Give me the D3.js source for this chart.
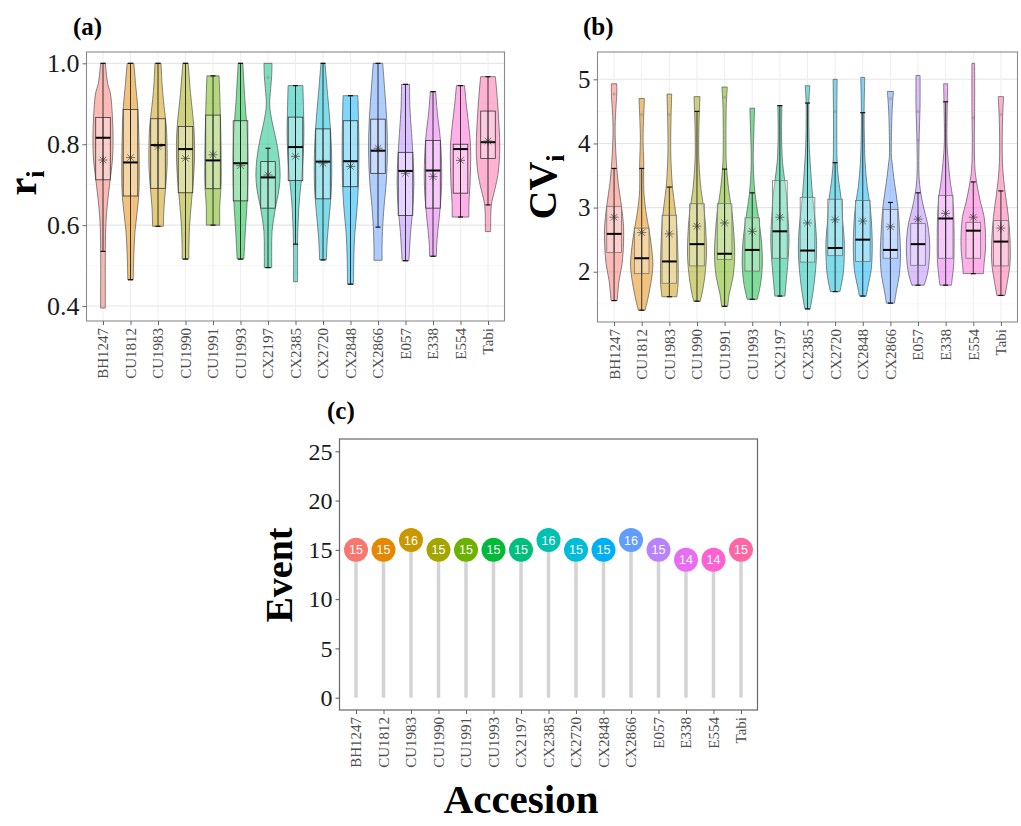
<!DOCTYPE html>
<html><head><meta charset="utf-8">
<script src="https://cdn.jsdelivr.net/npm/d3@7/dist/d3.min.js"></script>
<style>body{margin:0;background:#fff}</style>
</head><body>
<svg id="chart" width="1021" height="826"></svg>
<script>
// ---------- data ----------
const accessions = ["BH1247","CU1812","CU1983","CU1990","CU1991","CU1993","CX2197","CX2385","CX2720","CX2848","CX2866","E057","E338","E554","Tabi"];
const colors = ["#F8766D","#E58700","#C99800","#A3A500","#6BB100","#00BA38","#00BF7D","#00C0AF","#00BCD8","#00B0F6","#619CFF","#B983FF","#E76BF3","#FD61D1","#FF67A4"];

// panel (a): r_i  — violin density profiles as [value, relative density]
const rProfiles = [
  [[1.0,7],[0.95,14],[0.926,22],[0.868,28],[0.81,30],[0.76,28],[0.71,21],[0.66,14],[0.61,9],[0.54,7],[0.395,7]],
  [[1.0,10],[0.95,15],[0.885,22],[0.81,25],[0.745,26],[0.68,25],[0.62,18],[0.58,13],[0.53,10],[0.465,8]],
  [[1.0,9],[0.95,12],[0.91,16],[0.84,25],[0.79,27],[0.745,27],[0.695,23],[0.646,18],[0.597,16]],
  [[1.0,8],[0.926,15],[0.84,25],[0.786,27],[0.73,25],[0.66,18],[0.597,12],[0.54,10],[0.516,10]],
  [[0.969,18],[0.926,20],[0.868,22],[0.786,24],[0.70,24],[0.646,20],[0.60,20]],
  [[1.0,7],[0.91,13],[0.827,20],[0.745,22],[0.663,20],[0.58,14],[0.516,10]],
  [[1.0,12],[0.97,11],[0.938,8],[0.897,5],[0.856,12],[0.807,25],[0.765,33],[0.724,36],[0.69,33],[0.642,22],[0.584,12],[0.535,11],[0.495,11]],
  [[0.945,22],[0.88,24],[0.83,25],[0.774,23],[0.716,18],[0.667,12],[0.61,8],[0.551,6],[0.46,6]],
  [[1.0,6],[0.92,14],[0.84,22],[0.757,26],[0.69,25],[0.634,20],[0.568,13],[0.514,10]],
  [[0.92,22],[0.852,24],[0.786,25],[0.712,24],[0.646,20],[0.58,13],[0.523,10],[0.454,9]],
  [[1.0,14],[0.934,20],[0.86,26],[0.786,28],[0.712,25],[0.646,18],[0.597,14],[0.547,12],[0.513,12]],
  [[0.948,12],[0.893,13],[0.827,18],[0.761,23],[0.704,25],[0.646,22],[0.58,15],[0.539,12],[0.512,10]],
  [[0.93,8],[0.877,13],[0.811,22],[0.728,26],[0.671,24],[0.613,18],[0.564,12],[0.523,10]],
  [[0.945,12],[0.893,18],[0.835,26],[0.794,30],[0.745,30],[0.695,28],[0.654,25],[0.62,25]],
  [[0.967,22],[0.909,28],[0.844,33],[0.786,35],[0.728,30],[0.687,20],[0.65,10],[0.584,8]]
];
const rQ3   = [0.866,0.886,0.863,0.844,0.872,0.858,0.757,0.867,0.838,0.858,0.862,0.780,0.809,0.800,0.882];
const rMed  = [0.816,0.755,0.798,0.788,0.760,0.753,0.718,0.793,0.757,0.758,0.784,0.734,0.735,0.788,0.805];
const rQ1   = [0.712,0.672,0.691,0.680,0.690,0.660,0.642,0.710,0.665,0.695,0.728,0.624,0.642,0.679,0.765];
const rMean = [0.761,0.767,0.794,0.765,0.774,0.747,0.724,0.770,0.753,0.745,0.790,0.728,0.720,0.760,0.808];
const rWhiskLo = [0.535,0.465,0.597,0.516,0.600,0.516,0.495,0.553,0.514,0.454,0.595,0.512,0.523,0.620,0.650];
const rWhiskHi = [1.0,1.0,1.0,1.0,0.969,1.0,0.790,0.945,1.0,0.920,1.0,0.948,0.930,0.945,0.967];
const rOutliers = [[],[],[],[],[],[],[0.965],[],[],[],[],[],[],[],[]];
const rTicks = [0.4,0.6,0.8,1.0];
const rMinor = [0.5,0.7,0.9];

// panel (b): CV_i
const cvProfiles = [
  [[4.93,8],[4.77,8],[4.6,6],[4.26,3],[4.0,4],[3.70,7],[3.39,12],[3.02,22],[2.71,28],[2.45,28],[2.13,24],[1.87,15],[1.55,9]],
  [[4.70,8],[4.45,6],[4.05,4],[3.70,6],[3.28,6],[2.92,13],[2.65,22],[2.34,30],[2.08,33],[1.76,25],[1.55,17],[1.40,10]],
  [[4.77,7],[4.4,5],[4.0,4],[3.70,5],[3.28,10],[2.86,20],[2.50,24],[2.13,26],[1.82,26],[1.61,22]],
  [[4.73,9],[4.5,7],[4.0,5],[3.70,6],[3.28,12],[2.92,22],[2.55,27],[2.24,28],[1.92,23],[1.66,15],[1.54,10]],
  [[4.88,8],[4.6,5],[4.0,4],[3.70,5],[3.28,12],[2.92,22],[2.55,28],[2.24,30],[1.92,25],[1.66,14],[1.46,9]],
  [[4.55,7],[4.2,5],[3.70,3],[3.23,8],[2.86,18],[2.50,27],[2.13,30],[1.82,25],[1.57,15]],
  [[4.59,6],[4.2,5],[3.9,6],[3.70,8],[3.44,14],[3.18,20],[2.86,24],[2.55,27],[2.24,25],[1.92,20],[1.62,15]],
  [[4.90,7],[4.63,4],[4.0,5],[3.70,8],[3.18,15],[2.65,25],[2.34,27],[2.03,24],[1.71,17],[1.42,8]],
  [[5.0,6],[4.5,5],[4.0,5],[3.70,6],[3.44,10],[3.13,18],[2.81,22],[2.50,27],[2.24,27],[1.97,24],[1.69,14]],
  [[5.03,6],[4.5,4],[4.0,5],[3.70,7],[3.33,13],[3.02,22],[2.65,27],[2.34,28],[2.03,25],[1.76,15],[1.62,10]],
  [[4.81,9],[4.5,5],[3.8,3],[3.70,5],[3.39,12],[3.02,22],[2.65,27],[2.29,30],[1.97,27],[1.71,18],[1.51,12]],
  [[5.06,6],[4.6,6],[4.0,3],[3.5,3],[3.23,8],[2.97,18],[2.76,28],[2.50,34],[2.24,34],[1.97,28],[1.79,18]],
  [[4.93,6],[4.65,5],[4.0,4],[3.70,8],[3.39,14],[3.18,20],[2.86,24],[2.50,25],[2.13,24],[1.92,20],[1.79,17]],
  [[5.25,4],[4.5,4],[4.0,3],[3.6,5],[3.39,10],[3.07,22],[2.86,32],[2.60,36],[2.34,36],[2.13,32],[1.97,30]],
  [[4.73,8],[4.4,5],[3.8,4],[3.44,8],[3.18,14],[2.86,22],[2.50,27],[2.13,27],[1.87,20],[1.63,12]]
];
const cvQ3   = [3.02,2.68,2.88,3.06,3.06,2.84,3.42,3.16,3.13,3.11,2.97,2.75,3.19,2.77,2.80];
const cvMed  = [2.59,2.21,2.16,2.43,2.28,2.34,2.63,2.33,2.37,2.50,2.34,2.43,2.83,2.64,2.47];
const cvQ1   = [2.30,1.97,1.82,2.09,2.19,2.01,2.21,2.15,2.25,2.16,2.21,2.10,2.21,2.21,2.09];
const cvMean = [2.85,2.61,2.59,2.71,2.76,2.63,2.85,2.76,2.81,2.79,2.70,2.82,2.91,2.85,2.68];
const cvWhiskLo = [1.55,1.40,1.61,1.54,1.46,1.57,1.62,1.42,1.69,1.62,1.51,1.79,1.79,1.97,1.63];
const cvWhiskHi = [3.61,3.61,3.32,4.50,3.60,3.23,4.59,4.63,3.70,4.48,3.08,3.23,4.65,3.40,3.26];
const cvOutliers = [[4.77],[4.45],[4.45],[],[4.72],[],[],[],[4.5],[],[4.7],[4.5,4.05],[],[4.4],[4.45]];
const cvTicks = [2,3,4,5];
const cvMinor = [1.5,2.5,3.5,4.5];

// panel (c): events
const eventCounts = [15,15,16,15,15,15,15,16,15,15,16,15,14,14,15];
const eventTicks = [0,5,10,15,20,25];

// ---------- drawing ----------
const svg = d3.select("#chart");
const serif = "'Liberation Serif','Times New Roman',serif";

function asterisk(r){
  const k = r*0.72;
  return `M${-r},0L${r},0M0,${-r}L0,${r}M${-k},${-k}L${k},${k}M${-k},${k}L${k},${-k}`;
}

function styleXAxis(g){
  g.select(".domain").remove();
  g.selectAll(".tick line").attr("stroke","#666");
  g.selectAll(".tick text")
    .attr("transform","rotate(-90)")
    .attr("x",-7).attr("y",0).attr("dy","0.33em")
    .style("text-anchor","end")
    .attr("font-family",serif).attr("font-size",15).attr("fill","#4d4d4d");
}

function violinPanel(c){
  const g = svg.append("g");
  const x = d3.scalePoint().domain(accessions).range([c.x0,c.x1]).padding(0.6);
  const y = d3.scaleLinear().domain(c.domain).range([c.y1,c.y0]);
  const step = x.step();
  const w = d3.scaleLinear().domain([0,36]).range([0, step*0.44]);
  const boxHalf = step*0.265;

  // grid
  g.selectAll(".minor").data(c.minor).join("line")
    .attr("x1",c.x0).attr("x2",c.x1).attr("y1",d=>y(d)).attr("y2",d=>y(d))
    .attr("stroke","#f3f3f3").attr("stroke-width",0.7);
  g.selectAll(".major").data(c.ticks).join("line")
    .attr("x1",c.x0).attr("x2",c.x1).attr("y1",d=>y(d)).attr("y2",d=>y(d))
    .attr("stroke","#e6e6e6").attr("stroke-width",1.1);
  g.selectAll(".vmajor").data(accessions).join("line")
    .attr("x1",d=>x(d)).attr("x2",d=>x(d)).attr("y1",c.y0).attr("y2",c.y1)
    .attr("stroke","#eeeeee").attr("stroke-width",1);

  const area = d3.area().curve(d3.curveCatmullRom.alpha(0.5));
  accessions.forEach((a,i)=>{
    const cx = x(a);
    const prof = c.profiles[i];
    area.y(d=>y(d[0])).x0(d=>cx-w(d[1])).x1(d=>cx+w(d[1]));
    g.append("path").attr("d",area(prof))
      .attr("fill",colors[i]).attr("fill-opacity",0.5)
      .attr("stroke","#555").attr("stroke-width",0.7);
    // outliers
    c.outliers[i].forEach(v=>{
      g.append("circle").attr("cx",cx).attr("cy",y(v)).attr("r",1.6)
        .attr("fill","#777").attr("fill-opacity",0.35);
    });
    // whisker line
    g.append("line").attr("x1",cx).attr("x2",cx)
      .attr("y1",y(c.wlo[i])).attr("y2",y(c.whi[i]))
      .attr("stroke","#111").attr("stroke-width",0.8);
    [c.wlo[i],c.whi[i]].forEach(v=>{
      g.append("line").attr("x1",cx-2.5).attr("x2",cx+2.5).attr("y1",y(v)).attr("y2",y(v))
        .attr("stroke","#111").attr("stroke-width",1.2);
    });
    // box
    g.append("rect").attr("x",cx-boxHalf).attr("width",boxHalf*2)
      .attr("y",y(c.q3[i])).attr("height",y(c.q1[i])-y(c.q3[i]))
      .attr("fill","#fff").attr("fill-opacity",0.3)
      .attr("stroke",c.boxStroke).attr("stroke-width",0.8);
    g.append("line").attr("x1",cx).attr("x2",cx)
      .attr("y1",y(c.q1[i])).attr("y2",y(c.q3[i]))
      .attr("stroke","#111").attr("stroke-width",0.8);
    g.append("line").attr("x1",cx-boxHalf).attr("x2",cx+boxHalf)
      .attr("y1",y(c.med[i])).attr("y2",y(c.med[i]))
      .attr("stroke","#000").attr("stroke-width",2);
    // mean
    g.append("path").attr("d",asterisk(4.5))
      .attr("transform",`translate(${cx},${y(c.mean[i])})`)
      .attr("stroke","#333").attr("stroke-opacity",0.8).attr("stroke-width",0.8).attr("fill","none");
  });

  // border
  g.append("rect").attr("x",c.x0).attr("y",c.y0).attr("width",c.x1-c.x0).attr("height",c.y1-c.y0)
    .attr("fill","none").attr("stroke","#8a8a8a").attr("stroke-width",1.1);

  // axes
  const ya = g.append("g").attr("transform",`translate(${c.x0},0)`)
    .call(d3.axisLeft(y).tickValues(c.ticks).tickSize(4).tickPadding(3).tickFormat(c.fmt));
  ya.select(".domain").remove();
  ya.selectAll(".tick line").attr("stroke","#666");
  ya.selectAll(".tick text").attr("font-family",serif).attr("font-size",c.yFont).attr("fill","#1a1a1a");

  const xa = g.append("g").attr("transform",`translate(0,${c.y1})`)
    .call(d3.axisBottom(x).tickSize(4));
  styleXAxis(xa);
}

violinPanel({x0:86.5,x1:504.5,y0:52,y1:321,domain:[0.363,1.028],ticks:rTicks,minor:rMinor,
  fmt:d3.format(".1f"),profiles:rProfiles,q1:rQ1,med:rMed,q3:rQ3,mean:rMean,wlo:rWhiskLo,whi:rWhiskHi,
  outliers:rOutliers,boxStroke:"#333",yFont:26});
violinPanel({x0:597.5,x1:1017.5,y0:52,y1:322,domain:[1.216,5.426],ticks:cvTicks,minor:cvMinor,
  fmt:d3.format("d"),profiles:cvProfiles,q1:cvQ1,med:cvMed,q3:cvQ3,mean:cvMean,wlo:cvWhiskLo,whi:cvWhiskHi,
  outliers:cvOutliers,boxStroke:"#777",yFont:25});

// panel (c)
(function(){
  const x0=339.5,x1=757.5,y0=439,y1=710;
  const g = svg.append("g");
  const x = d3.scalePoint().domain(accessions).range([x0,x1]).padding(0.6);
  const y = d3.scaleLinear().domain([-1.25,26.25]).range([y1,y0]);
  g.selectAll(".stem").data(accessions).join("line")
    .attr("x1",d=>x(d)).attr("x2",d=>x(d))
    .attr("y1",y(0)).attr("y2",(d,i)=>y(eventCounts[i]))
    .attr("stroke","#d3d3d3").attr("stroke-width",3.5);
  g.selectAll(".dot").data(accessions).join("circle")
    .attr("cx",d=>x(d)).attr("cy",(d,i)=>y(eventCounts[i])).attr("r",12)
    .attr("fill",(d,i)=>colors[i]);
  g.selectAll(".lab").data(accessions).join("text")
    .attr("x",d=>x(d)).attr("y",(d,i)=>y(eventCounts[i])).attr("dy","0.36em")
    .attr("text-anchor","middle").attr("fill","#fff")
    .attr("font-family","'Liberation Sans',Arial,sans-serif").attr("font-size",12.5)
    .text((d,i)=>eventCounts[i]);
  g.append("rect").attr("x",x0).attr("y",y0).attr("width",x1-x0).attr("height",y1-y0)
    .attr("fill","none").attr("stroke","#666").attr("stroke-width",1.2);
  const ya = g.append("g").attr("transform",`translate(${x0},0)`)
    .call(d3.axisLeft(y).tickValues(eventTicks).tickSize(4).tickPadding(3));
  ya.select(".domain").remove();
  ya.selectAll(".tick line").attr("stroke","#555");
  ya.selectAll(".tick text").attr("font-family",serif).attr("font-size",24).attr("fill","#1a1a1a");
  const xa = g.append("g").attr("transform",`translate(0,${y1})`).call(d3.axisBottom(x).tickSize(4));
  styleXAxis(xa);
})();

// titles
function boldText(x,y,txt,size,rot){
  return svg.append("text").attr("transform",`translate(${x},${y})${rot?" rotate(-90)":""}`)
    .attr("text-anchor","middle").attr("font-family",serif).attr("font-weight","bold")
    .attr("font-size",size).attr("fill","#000").text(txt);
}
const t1 = boldText(36,183,"r",40,true);
t1.append("tspan").attr("font-size",26).attr("dy","0.3em").text("i");
const t2 = boldText(556,187,"CV",40,true);
t2.append("tspan").attr("font-size",26).attr("dy","0.3em").text("i");
boldText(292,575,"Event",38,true);
boldText(521,813,"Accesion",41,false);

svg.append("text").attr("x",73).attr("y",35).attr("font-family",serif).attr("font-weight","bold").attr("font-size",25).text("(a)");
svg.append("text").attr("x",583).attr("y",35).attr("font-family",serif).attr("font-weight","bold").attr("font-size",25).text("(b)");
svg.append("text").attr("x",327).attr("y",419).attr("font-family",serif).attr("font-weight","bold").attr("font-size",25).text("(c)");
</script>
</body></html>
